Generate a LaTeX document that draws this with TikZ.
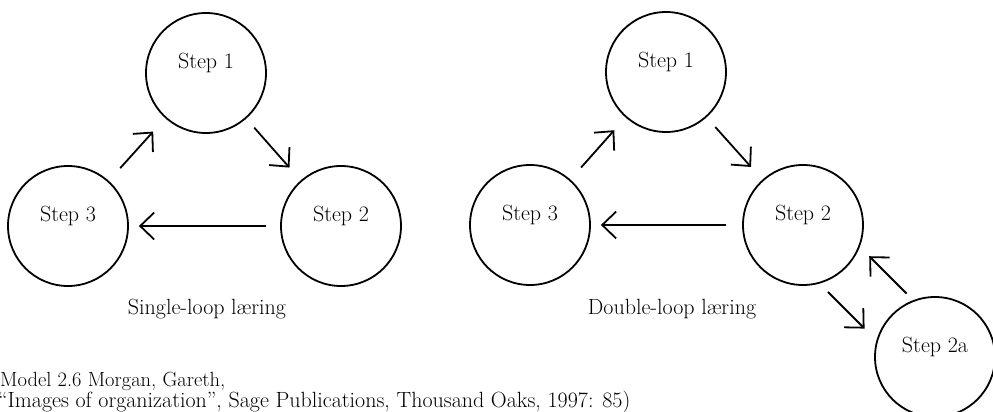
\documentclass[tikz,border=0pt]{standalone}
\usetikzlibrary{arrows.meta}
\tikzset{every node/.style={inner sep=0pt, font=\fontsize{22}{26}\selectfont}}
\tikzstyle{stepnode} = [circle, draw, line width=1.8pt, minimum size=120pt,
    text height=15pt, text depth=25pt]
\tikzstyle{line} = [draw, line width=1.8pt, -{Straight Barb[length=14pt,width=27pt]},
    shorten <=15pt, shorten >=16pt]
\tikzstyle{caption} = [anchor=base]

\begin{document}
\begin{tikzpicture}[x=1pt, y=-1pt]
    \useasboundingbox (0,0) rectangle (993,412);
    \clip (0,0) rectangle (993,412);
    % single loop
    \node [stepnode] (s1) at (206,73) {Step 1};
    \node [stepnode] (s2) at (341,226) {Step 2};
    \node [stepnode] (s3) at (68,226) {Step 3};
    \path [line] (s3) edge [shorten <=17pt, shorten >=18pt] (s1);
    \path [line] (s1) edge [shorten <=12pt, shorten >=17pt] (s2);
    \path [line] (s2) edge [shorten <=14pt, shorten >=10pt] (s3);
    \node [caption] (single) at (207,314) {Single-loop læring};
    % double loop
    \node [stepnode] (d1) at (666,72) {Step 1};
    \node [stepnode] (d2) at (803,225) {Step 2};
    \node [stepnode] (d3) at (530,225) {Step 3};
    \node [stepnode] (d2a) at (935,357) {Step 2a};
    \path [line] (d3) edge [shorten <=16pt, shorten >=17pt] (d1);
    \path [line] (d1) edge [shorten <=13pt, shorten >=17pt] (d2);
    \path [line] (d2) edge [shorten <=16pt, shorten >=10pt] (d3);
    \path [line, transform canvas={shift={(-21,21)}}, shorten <=4pt, shorten >=9pt] (d2) -- (d2a);
    \path [line, transform canvas={shift={(17.5,-17.5)}}, shorten <=4pt, shorten >=8pt] (d2a) -- (d2);
    \node [caption] (double) at (672,314) {Double-loop læring};
    % source
    \node [anchor=base west, font=\fontsize{20.5}{24}\selectfont] (src1) at (0,386) {Model 2.6 Morgan, Gareth,};
    \node [anchor=base west] (src2) at (-2,407) {“Images of organization”, Sage Publications, Thousand Oaks, 1997: 85)};
\end{tikzpicture}
\end{document}
